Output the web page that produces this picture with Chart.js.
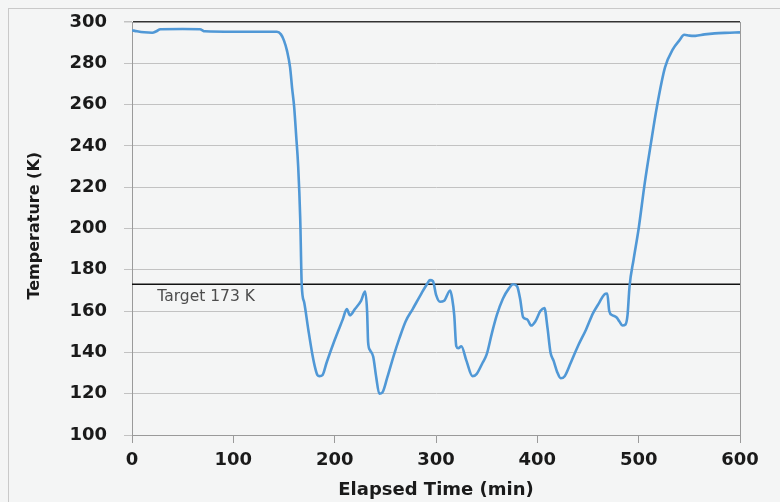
<!DOCTYPE html>
<html>
<head>
<meta charset="utf-8">
<script src="https://cdn.jsdelivr.net/npm/chart.js@4/dist/chart.umd.min.js"></script>
<style>
  html, body { margin: 0; padding: 0; background: #f4f5f5; }
  #wrap { position: relative; width: 780px; height: 502px; overflow: hidden; }
  #frame { position: absolute; left: 8px; top: 8px; width: 800px; height: 600px;
           border-left: 1px solid #c9c9c9; border-top: 1px solid #c9c9c9; }
  canvas { position: absolute; left: 0; top: 0; }
</style>
</head>
<body>
<div id="wrap">
  <div id="frame"></div>
  <canvas id="chart" width="780" height="502"></canvas>
</div>
<script>
// temperature curve: time in minutes, temperature in K
const timeMin = [
  0, 5, 12, 20, 24, 28, 50, 67, 72, 100, 130, 143, 147, 150, 153, 156, 158, 160, 162, 164,
  166, 167.5, 170, 174, 178, 181, 183, 185, 188, 192, 200, 208, 212, 215, 220, 226, 230, 232, 233, 235,
  238, 241, 244, 247, 252, 258, 264, 270, 277, 285, 291, 294, 297, 300, 304, 308, 314, 316, 318, 320,
  322, 325, 330, 336, 340, 346, 350, 355, 360, 366, 372, 376, 380, 383, 386, 390, 394, 398, 403, 407,
  410, 413, 416, 420, 423, 427, 433, 440, 448, 455, 461, 466, 469, 471, 474, 478, 481, 484, 487, 489,
  491, 495, 500, 506, 512, 518, 526, 534, 540, 545, 550, 556, 565, 575, 590, 600
]
const tempK = [
  296, 295.5, 295, 294.8, 295.5, 296.5, 296.6, 296.5, 295.5, 295.3, 295.3, 295.3, 294, 291, 286, 278, 268, 259, 245, 230,
  205, 172.6, 164, 151, 139, 132, 129, 128.5, 129, 135, 146, 156, 161, 158, 161, 165, 169.5, 160, 145, 141,
  138, 128, 120, 120.5, 128, 138, 147, 155, 161, 168, 173, 175, 174.5, 168, 164.5, 165, 170, 166, 158, 143,
  142, 143, 136, 128.5, 129.5, 135, 139, 149, 158, 166, 171, 173, 172, 166, 157, 156, 153, 155, 160, 161.5,
  152, 140, 136, 130, 127.5, 128.5, 135, 143, 151, 159, 164, 168, 168.5, 160, 158, 157, 155, 153, 153.5, 158,
  172, 185, 200, 222, 241, 259, 278, 287, 291, 293.8, 293.4, 293.3, 294, 294.5, 294.8, 295
]
// target line
const targetTime = [0, 600]
const targetTemp = [173, 173]
const targetText = 'Target 173 K'

const xTicks = [0, 100, 200, 300, 400, 500, 600]
const yTicks = [100, 120, 140, 160, 180, 200, 220, 240, 260, 280, 300]

const tickFont = { family: '"DejaVu Sans"', size: 18, weight: 'bold' }

// подпись под линией цели
const targetLabel = {
  id: 'targetLabel',
  afterDatasetsDraw(chart) {
    const { ctx, scales } = chart
    ctx.save()
    ctx.font = '15.5px "DejaVu Sans"'
    ctx.fillStyle = '#4d4d4d'
    ctx.textBaseline = 'middle'
    ctx.fillText(targetText, scales.x.getPixelForValue(25), scales.y.getPixelForValue(167))
    ctx.restore()
  }
}

// fixed plot area: no extra room for the edge labels
function noEdgePadding(s) {
  s.paddingTop = 0
  s.paddingBottom = 0
  s.paddingLeft = 0
  s.paddingRight = 0
}

new Chart(document.getElementById('chart'), {
  type: 'line',
  data: {
    datasets: [
      {
        label: 'Temperature',
        data: timeMin.map((t, i) => ({ x: t, y: tempK[i] })),
        borderColor: '#5098d6',
        borderWidth: 2.6,
        pointRadius: 0,
        cubicInterpolationMode: 'monotone',
        fill: false
      },
      {
        label: 'Target',
        data: targetTime.map((t, i) => ({ x: t, y: targetTemp[i] })),
        borderColor: '#111',
        borderWidth: 1.5,
        pointRadius: 0,
        fill: false
      }
    ]
  },
  options: {
    responsive: false,
    animation: false,
    layout: { padding: { left: 0, right: 40, top: 22, bottom: 0 } },
    plugins: { legend: { display: false }, tooltip: { enabled: false } },
    scales: {
      x: {
        type: 'linear',
        min: 0,
        max: 600,
        afterBuildTicks: s => { s.ticks = xTicks.map(v => ({ value: v })) },
        afterFit: s => { s.height = 67; noEdgePadding(s) },
        ticks: { font: tickFont, color: '#1a1a1a', padding: 7, maxRotation: 0 },
        grid: {
          drawOnChartArea: true,
          color: c => c.tick && c.tick.value === 600 ? '#9a9a9a' : 'rgba(0,0,0,0)',
          tickColor: '#9a9a9a',
          tickLength: 8
        },
        border: { color: '#9a9a9a', width: 1 },
        title: {
          display: true,
          text: 'Elapsed Time (min)',
          font: { family: '"DejaVu Sans"', size: 18, weight: 'bold' },
          color: '#1a1a1a',
          padding: { top: 0, bottom: 1 }
        }
      },
      y: {
        min: 100,
        max: 300,
        afterBuildTicks: s => { s.ticks = yTicks.map(v => ({ value: v })) },
        afterFit: s => { s.width = 132; noEdgePadding(s) },
        ticks: { font: tickFont, color: '#1a1a1a', padding: 17 },
        grid: {
          color: c => c.tick && c.tick.value === 300 ? '#333' : '#c2c2c2',
          lineWidth: c => c.tick && c.tick.value === 300 ? 1.5 : 1,
          tickColor: '#c2c2c2',
          tickLength: 8
        },
        border: { color: '#9a9a9a', width: 1 },
        title: {
          display: true,
          text: '\u00a0Temperature (K)',
          font: { family: '"DejaVu Sans"', size: 16, weight: 'bold' },
          color: '#1a1a1a',
          padding: { top: 25, bottom: 0 }
        }
      }
    }
  },
  plugins: [targetLabel]
})
</script>
</body>
</html>
